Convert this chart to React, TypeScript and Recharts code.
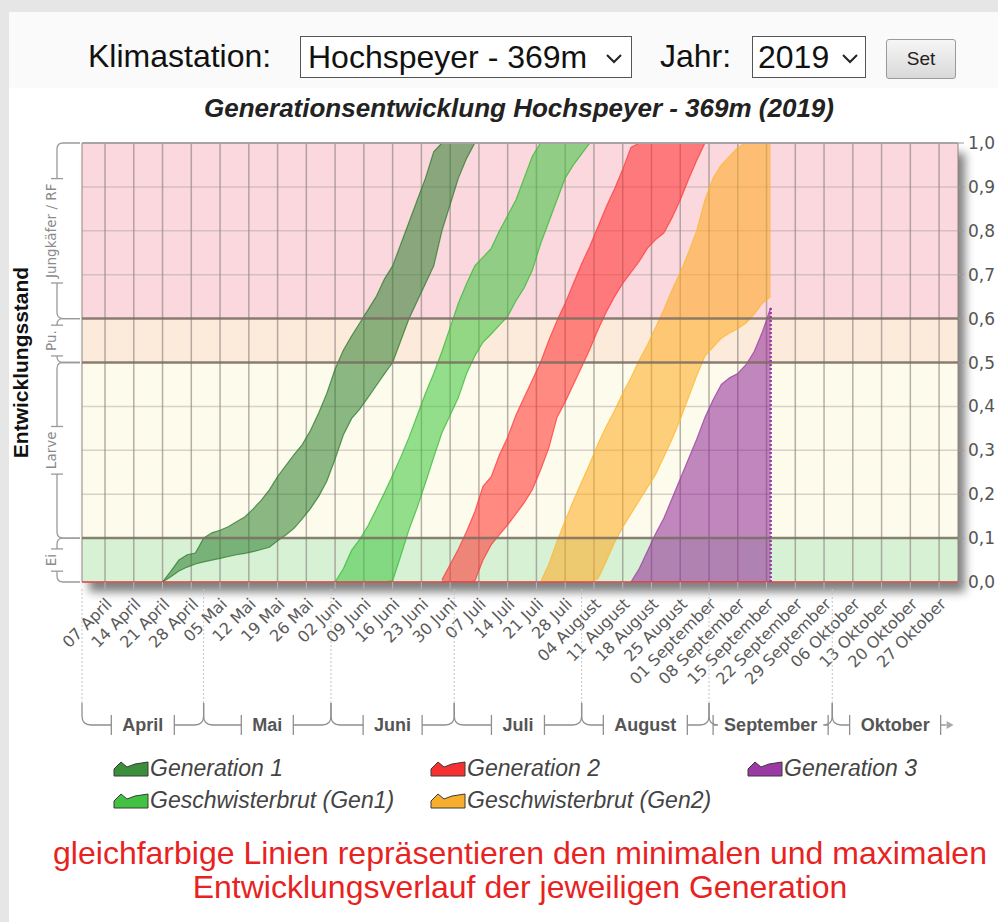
import React from 'react';
import {
  ComposedChart,
  Area,
  XAxis,
  YAxis,
  CartesianGrid,
  ReferenceArea,
  ReferenceLine,
  Legend,
} from 'recharts';

// ---------- axis data ----------
const DOMAIN_START = 0.4;
const DOMAIN_END = 213.6;

const weekDays = [6, 13, 20, 27, 34, 41, 48, 55, 62, 69, 76, 83, 90, 97, 104, 111, 118, 125, 132, 139, 146, 153, 160, 167, 174, 181, 188, 195, 202, 209];
const weekLabels = ['07 April', '14 April', '21 April', '28 April', '05 Mai', '12 Mai', '19 Mai', '26 Mai', '02 Juni', '09 Juni', '16 Juni', '23 Juni', '30 Juni', '07 Juli', '14 Juli', '21 Juli', '28 Juli', '04 August', '11 August', '18 August', '25 August', '01 September', '08 September', '15 September', '22 September', '29 September', '06 Oktober', '13 Oktober', '20 Oktober', '27 Oktober'];

const monthNames = ['April', 'Mai', 'Juni', 'Juli', 'August', 'September', 'Oktober'];
const monthStartDays = [0, 30, 61, 91, 122, 153, 183];

const yTicks = [0, 0.1, 0.2, 0.3, 0.4, 0.5, 0.6, 0.7, 0.8, 0.9, 1.0];

const stageNames = ['Ei', 'Larve', 'Pu.', 'Jungkäfer / RF'];
const stageStart = [0, 0.1, 0.5, 0.6];
const stageEnd = [0.1, 0.5, 0.6, 1.0];
const stageColors = ['#d7f1d5', '#fdfcec', '#fcebdb', '#fad8dd'];

// ---------- series data (day index from 1 April) ----------
const gen1Days = [20, 22, 24, 26, 28, 30, 32, 34, 36, 38, 40, 42, 44, 46, 48, 50, 52, 54, 56, 58, 60, 62, 64, 66, 68, 70, 72, 74, 76, 78, 80, 82, 84, 86, 88, 90, 92, 94, 96];
const gen1Max = [0, 0.024, 0.05, 0.062, 0.066, 0.1, 0.112, 0.118, 0.126, 0.137, 0.148, 0.166, 0.186, 0.21, 0.24, 0.265, 0.29, 0.313, 0.345, 0.385, 0.43, 0.485, 0.528, 0.56, 0.59, 0.62, 0.65, 0.69, 0.72, 0.77, 0.82, 0.87, 0.92, 0.98, 1, 1, 1, 1, 1];
const gen1Min = [0, 0.012, 0.025, 0.034, 0.041, 0.046, 0.05, 0.054, 0.058, 0.062, 0.065, 0.069, 0.074, 0.079, 0.094, 0.107, 0.122, 0.144, 0.167, 0.195, 0.23, 0.28, 0.335, 0.372, 0.394, 0.42, 0.447, 0.474, 0.5, 0.55, 0.6, 0.64, 0.68, 0.72, 0.8, 0.86, 0.92, 0.965, 1];

const sib1Days = [62, 64, 66, 68, 70, 72, 74, 76, 78, 80, 82, 84, 86, 88, 90, 92, 94, 96, 98, 100, 102, 104, 106, 108, 110, 112, 114, 116, 118, 120, 122, 124];
const sib1Max = [0, 0.03, 0.072, 0.097, 0.128, 0.165, 0.203, 0.243, 0.285, 0.33, 0.38, 0.43, 0.475, 0.525, 0.58, 0.635, 0.68, 0.72, 0.74, 0.76, 0.8, 0.835, 0.87, 0.92, 0.97, 1, 1, 1, 1, 1, 1, 1];
const sib1Min = [0, 0, 0, 0, 0, 0, 0, 0.003, 0.06, 0.12, 0.17, 0.226, 0.284, 0.34, 0.38, 0.42, 0.475, 0.515, 0.546, 0.565, 0.585, 0.605, 0.64, 0.67, 0.71, 0.77, 0.82, 0.87, 0.92, 0.95, 0.975, 1];

const gen2Days = [88, 90, 92, 94, 96, 98, 100, 102, 104, 106, 108, 110, 112, 114, 116, 118, 120, 122, 124, 126, 128, 130, 132, 134, 136, 138, 140, 142, 144, 146, 148, 150, 152];
const gen2Max = [0.005, 0.04, 0.075, 0.115, 0.16, 0.218, 0.24, 0.29, 0.33, 0.38, 0.42, 0.46, 0.5, 0.55, 0.595, 0.635, 0.68, 0.725, 0.765, 0.81, 0.855, 0.895, 0.94, 0.99, 1, 1, 1, 1, 1, 1, 1, 1, 1];
const gen2Min = [0, 0, 0, 0, 0.002, 0.05, 0.085, 0.108, 0.13, 0.155, 0.18, 0.21, 0.255, 0.305, 0.375, 0.41, 0.45, 0.49, 0.53, 0.575, 0.615, 0.65, 0.68, 0.705, 0.73, 0.76, 0.78, 0.795, 0.83, 0.87, 0.917, 0.96, 1];

const sib2Days = [112, 114, 116, 118, 120, 122, 124, 126, 128, 130, 132, 134, 136, 138, 140, 142, 144, 146, 148, 150, 152, 154, 156, 158, 160, 162, 164, 166, 168];
const sib2Max = [0, 0.04, 0.092, 0.14, 0.185, 0.228, 0.27, 0.315, 0.355, 0.39, 0.43, 0.465, 0.505, 0.54, 0.58, 0.62, 0.665, 0.705, 0.75, 0.8, 0.87, 0.92, 0.95, 0.97, 0.99, 1, 1, 1, 1];
const sib2Min = [0, 0, 0, 0, 0, 0, 0, 0.008, 0.048, 0.09, 0.125, 0.155, 0.185, 0.215, 0.245, 0.285, 0.325, 0.37, 0.42, 0.47, 0.515, 0.535, 0.555, 0.567, 0.577, 0.59, 0.61, 0.635, 0.65];

const gen3Days = [134, 136, 138, 140, 142, 144, 146, 148, 150, 152, 154, 156, 158, 160, 162, 164, 166, 168];
const gen3Max = [0, 0.03, 0.07, 0.11, 0.145, 0.19, 0.235, 0.28, 0.325, 0.375, 0.415, 0.45, 0.465, 0.475, 0.495, 0.525, 0.57, 0.625];

const toRange = (days: number[], lo: number[], hi: number[]) =>
  days.map((d, i) => ({ d, lo: lo[i], hi: hi[i] }));

const gen1Data = toRange(gen1Days, gen1Min, gen1Max);
const sib1Data = toRange(sib1Days, sib1Min, sib1Max);
const gen2Data = toRange(gen2Days, gen2Min, gen2Max);
const sib2Data = toRange(sib2Days, sib2Min, sib2Max);
const gen3Data = gen3Days.map((d, i) => ({ d, lo: 0, hi: gen3Max[i] }));

const series = [
  { key: 'g1', name: 'Generation 1', data: gen1Data, fill: '#2b7d2b', stroke: '#2e7a2e', icon: '#3b8f3b' },
  { key: 's1', name: 'Geschwisterbrut (Gen1)', data: sib1Data, fill: '#3cc43c', stroke: '#34b834', icon: '#41c341' },
  { key: 'g2', name: 'Generation 2', data: gen2Data, fill: '#ff2b2b', stroke: '#ff3a3a', icon: '#f53030' },
  { key: 's2', name: 'Geschwisterbrut (Gen2)', data: sib2Data, fill: '#ffaa1e', stroke: '#ffb52e', icon: '#f7ae2c' },
  { key: 'g3', name: 'Generation 3', data: gen3Data, fill: '#8e2796', stroke: '#9a3aa4', icon: '#9b3aa5' },
];
const legendOrder = ['g1', 'g2', 'g3', 's1', 's2'];

// ---------- helpers ----------
let measureCtx: any = null;
function measure(text: string, font: string, fallbackPerChar: number) {
  try {
    if (!measureCtx && typeof document !== 'undefined') {
      measureCtx = document.createElement('canvas').getContext('2d');
    }
    if (measureCtx) {
      measureCtx.font = font;
      return measureCtx.measureText(text).width;
    }
  } catch (e) {
    /* ignore */
  }
  return text.length * fallbackPerChar;
}

const labelForDay = (v: number) => {
  const i = weekDays.indexOf(v);
  return i >= 0 ? weekLabels[i] : '';
};

const WeekTick = (props: any) => {
  const { x, y, payload } = props;
  const ax = x + 8;
  const ay = y + 14;
  return (
    <text
      x={ax}
      y={ay}
      textAnchor="end"
      fontFamily="DejaVu Sans, Verdana, sans-serif"
      fontSize={16}
      fill="#5a5a5a"
      transform={`rotate(-45 ${ax} ${ay})`}
    >
      {labelForDay(payload.value)}
    </text>
  );
};

const MonthTick = (props: any) => {
  const { x, y, index, width } = props;
  const w = typeof width === 'number' && width > 0 ? width : 876;
  const pxPerDay = w / (DOMAIN_END - DOMAIN_START);
  const startDay = Math.max(monthStartDays[index], DOMAIN_START);
  const isLast = index === monthNames.length - 1;
  const endDay = isLast ? DOMAIN_END : monthStartDays[index + 1];
  const x1 = x + (endDay - startDay) * pxPerDay;
  const rowY = y + 33;
  const cx = (x + x1) / 2;
  const name = monthNames[index];
  const tw = measure(name, 'bold 18px "Liberation Sans"', 10);
  const lx = cx - tw / 2 - 11;
  const rx = cx + tw / 2 + 11;
  const c = '#8f8f8f';
  return (
    <g>
      <line x1={x} y1={y - 103} x2={x} y2={rowY - 20} stroke="#c4c4c4" strokeDasharray="2 2" />
      <path
        d={`M${x},${rowY - 22} L${x},${rowY - 9} Q${x},${rowY} ${x + 9},${rowY} L${lx},${rowY}`}
        fill="none"
        stroke={c}
        strokeWidth={1.3}
      />
      <line x1={lx} y1={rowY - 10} x2={lx} y2={rowY + 10} stroke={c} strokeWidth={1.3} />
      <text x={cx} y={rowY + 6} textAnchor="middle" fontFamily="Liberation Sans, Arial, sans-serif" fontWeight="bold" fontSize={18} fill="#555">
        {name}
      </text>
      <line x1={rx} y1={rowY - 10} x2={rx} y2={rowY + 10} stroke={c} strokeWidth={1.3} />
      {isLast ? (
        <g>
          <line x1={rx} y1={rowY} x2={rx + 6} y2={rowY} stroke={c} strokeWidth={1.3} />
          <path d={`M${rx + 6},${rowY - 4} L${rx + 13},${rowY} L${rx + 6},${rowY + 4} Z`} fill="#aaa" />
        </g>
      ) : (
        <path
          d={`M${rx},${rowY} L${x1 - 9},${rowY} Q${x1},${rowY} ${x1},${rowY - 9} L${x1},${rowY - 22}`}
          fill="none"
          stroke={c}
          strokeWidth={1.3}
        />
      )}
    </g>
  );
};

const StageTick = (props: any) => {
  const { x, y, index, height } = props;
  const h = typeof height === 'number' && height > 0 ? height : 439.5;
  const y0 = y;
  const y1 = y - (stageEnd[index] - stageStart[index]) * h;
  const lineX = x - 25;
  const cy = (y0 + y1) / 2;
  const name = stageNames[index];
  const tl = measure(name, '13.5px "DejaVu Sans"', 8);
  const gTop = cy - tl / 2 - 5;
  const gBot = cy + tl / 2 + 5;
  const c = '#9a9a9a';
  return (
    <g>
      {index === 0 && (
        <text
          x={x - 54}
          y={y0 - h / 2}
          textAnchor="middle"
          fontFamily="Liberation Sans, Arial, sans-serif"
          fontWeight="bold"
          fontSize={21}
          fill="#111"
          transform={`rotate(-90 ${x - 54} ${y0 - h / 2})`}
        >
          Entwicklungsstand
        </text>
      )}
      <path
        d={`M${x - 2},${y1} L${lineX + 6},${y1} Q${lineX},${y1} ${lineX},${y1 + 6} L${lineX},${gTop}`}
        fill="none"
        stroke={c}
        strokeWidth={1.3}
      />
      <line x1={lineX - 6} y1={gTop} x2={lineX + 6} y2={gTop} stroke={c} strokeWidth={1.3} />
      <text
        x={lineX - 1}
        y={cy}
        textAnchor="middle"
        fontFamily="DejaVu Sans, Verdana, sans-serif"
        fontSize={13.5}
        fill="#8a8a8a"
        transform={`rotate(-90 ${lineX - 1} ${cy})`}
      >
        {name}
      </text>
      <line x1={lineX - 6} y1={gBot} x2={lineX + 6} y2={gBot} stroke={c} strokeWidth={1.3} />
      <path
        d={`M${lineX},${gBot} L${lineX},${y0 - 6} Q${lineX},${y0} ${lineX + 6},${y0} L${x - 2},${y0}`}
        fill="none"
        stroke={c}
        strokeWidth={1.3}
      />
    </g>
  );
};

const LegendIcon = ({ color }: { color: string }) => (
  <svg width={36} height={18} style={{ display: 'block' }}>
    <path d="M1,17 L1,10 L8,3 L14,8 L22,5 L35,3 L35,17 Z" fill={color} stroke="#3a3a3a" strokeWidth={1} />
  </svg>
);

const LegendContent = () => (
  <div style={{ display: 'grid', gridTemplateColumns: '317px 317px 317px', gridAutoRows: '32px' }}>
    {legendOrder.map((k) => {
      const s = series.find((e) => e.key === k)!;
      return (
        <div key={k} style={{ display: 'flex', alignItems: 'center', height: 32 }}>
          <LegendIcon color={s.icon} />
          <span
            style={{
              marginLeft: 1,
              fontFamily: '"Liberation Sans", Arial, sans-serif',
              fontStyle: 'italic',
              fontSize: 23,
              color: '#444',
              whiteSpace: 'nowrap',
            }}
          >
            {s.name}
          </span>
        </div>
      );
    })}
  </div>
);

const Chevron = ({ left }: { left: number }) => (
  <svg width={18} height={12} style={{ position: 'absolute', left, top: 16 }}>
    <polyline points="2,2 9,9 16,2" fill="none" stroke="#222" strokeWidth={2} />
  </svg>
);

export default function App() {
  const headerFont = '"Liberation Sans", Arial, sans-serif';
  return (
    <div
      style={{
        position: 'absolute',
        left: 0,
        top: 0,
        width: 998,
        height: 922,
        overflow: 'hidden',
        background: '#e6e6e6',
        fontFamily: headerFont,
      }}
    >
      <div style={{ position: 'absolute', left: 9, top: 12, right: 0, bottom: 0, background: '#ffffff' }} />
      <div style={{ position: 'absolute', left: 9, top: 12, right: 0, height: 76, background: '#fafafa' }} />

      {/* header controls */}
      <div style={{ position: 'absolute', left: 88, top: 36, fontSize: 32, lineHeight: '40px', color: '#111' }}>Klimastation:</div>
      <div
        style={{
          position: 'absolute',
          left: 300,
          top: 36,
          width: 330,
          height: 40,
          border: '1px solid #555',
          background: '#fff',
        }}
      >
        <div style={{ position: 'absolute', left: 7, top: 0, fontSize: 32, lineHeight: '40px', color: '#111' }}>Hochspeyer - 369m</div>
        <Chevron left={304} />
      </div>
      <div style={{ position: 'absolute', left: 660, top: 36, fontSize: 32, lineHeight: '40px', color: '#111' }}>Jahr:</div>
      <div
        style={{
          position: 'absolute',
          left: 752,
          top: 36,
          width: 112,
          height: 40,
          border: '1px solid #555',
          background: '#fff',
        }}
      >
        <div style={{ position: 'absolute', left: 5, top: 0, fontSize: 32, lineHeight: '40px', color: '#111' }}>2019</div>
        <Chevron left={88} />
      </div>
      <div
        style={{
          position: 'absolute',
          left: 886,
          top: 39,
          width: 68,
          height: 38,
          border: '1px solid #9a9a9a',
          borderRadius: 3,
          background: 'linear-gradient(#f6f6f6, #d9d9d9)',
          fontSize: 19,
          lineHeight: '38px',
          textAlign: 'center',
          color: '#222',
        }}
      >
        Set
      </div>

      <div style={{ position: 'absolute', left: 0, top: 0 }}>
        <ComposedChart
          width={998}
          height={830}
          margin={{ top: 143, right: 0, bottom: 88, left: 12 }}
          style={{ fontFamily: 'DejaVu Sans, sans-serif' }}
        >
          <defs>
            <filter id="plotShadow" x="-5%" y="-5%" width="115%" height="125%">
              <feGaussianBlur in="SourceAlpha" stdDeviation="5" />
              <feOffset dx="7" dy="10" result="blur" />
              <feFlood floodColor="#000" floodOpacity="0.5" />
              <feComposite in2="blur" operator="in" />
              <feMerge>
                <feMergeNode />
                <feMergeNode in="SourceGraphic" />
              </feMerge>
            </filter>
          </defs>
          <text
            x={519}
            y={117}
            textAnchor="middle"
            fontFamily="Liberation Sans, Arial, sans-serif"
            fontWeight="bold"
            fontStyle="italic"
            fontSize={26}
            fill="#222"
          >
            Generationsentwicklung Hochspeyer - 369m (2019)
          </text>

          <XAxis
            dataKey="d"
            type="number"
            domain={[DOMAIN_START, DOMAIN_END]}
            ticks={weekDays}
            interval={0}
            height={110}
            axisLine={false}
            tickLine={{ stroke: '#b5b5b5' }}
            tickSize={7}
            tick={<WeekTick />}
            allowDataOverflow
          />
          <XAxis
            xAxisId="m"
            dataKey="d"
            type="number"
            domain={[DOMAIN_START, DOMAIN_END]}
            ticks={monthStartDays.map((d) => Math.max(d, DOMAIN_START))}
            interval={0}
            height={50}
            axisLine={false}
            tickLine={false}
            tickSize={0}
            tickMargin={0}
            tick={<MonthTick />}
            allowDataOverflow
          />
          <YAxis
            orientation="right"
            type="number"
            domain={[0, 1]}
            ticks={yTicks}
            interval={0}
            width={40}
            axisLine={false}
            tickLine={{ stroke: '#9a9a9a' }}
            tickSize={6}
            tickMargin={4}
            tick={{ fontSize: 17, fill: '#555', fontFamily: 'DejaVu Sans, Verdana, sans-serif' }}
            tickFormatter={(v: number) => v.toFixed(1).replace('.', ',')}
            allowDataOverflow
          />
          <YAxis
            yAxisId="s"
            orientation="left"
            type="number"
            domain={[0, 1]}
            ticks={stageStart}
            interval={0}
            width={70}
            axisLine={false}
            tickLine={false}
            tickSize={0}
            tickMargin={0}
            tick={<StageTick />}
            allowDataOverflow
          />

          <ReferenceArea
            x1={DOMAIN_START}
            x2={DOMAIN_END}
            y1={0}
            y2={1}
            fill="#ffffff"
            fillOpacity={1}
            stroke="none"
            filter="url(#plotShadow)"
            zIndex={-300}
          />
          {stageStart.map((s, i) => (
            <ReferenceArea
              key={'band' + i}
              x1={DOMAIN_START}
              x2={DOMAIN_END}
              y1={s}
              y2={stageEnd[i]}
              fill={stageColors[i]}
              fillOpacity={1}
              stroke="none"
              zIndex={-200}
            />
          ))}
          <CartesianGrid vertical={false} stroke="#b3a6a3" strokeOpacity={0.5} strokeWidth={1.5} zIndex={-100} />
          <CartesianGrid horizontal={false} stroke="#8f8480" strokeOpacity={0.65} strokeWidth={1.5} zIndex={-100} />

          {series.map((s) => (
            <Area
              key={s.key}
              name={s.name}
              data={s.data}
              dataKey={(p: any) => [p.lo, p.hi]}
              type="linear"
              fill={s.fill}
              fillOpacity={0.55}
              stroke={s.stroke}
              strokeOpacity={0.75}
              strokeWidth={1.2}
              dot={false}
              activeDot={false}
              isAnimationActive={false}
            />
          ))}

          <ReferenceLine y={0.1} stroke="#7b6f64" strokeOpacity={0.85} strokeWidth={2.5} />
          <ReferenceLine y={0.5} stroke="#7b6f64" strokeOpacity={0.85} strokeWidth={2.5} />
          <ReferenceLine y={0.6} stroke="#7b6f64" strokeOpacity={0.85} strokeWidth={2.5} />
          <ReferenceLine y={1} stroke="#a9a3a3" strokeWidth={2} />
          <ReferenceLine y={0} stroke="#e04646" strokeWidth={1.5} />
          <ReferenceLine
            segment={[
              { x: gen3Days[gen3Days.length - 1], y: 0 },
              { x: gen3Days[gen3Days.length - 1], y: gen3Max[gen3Max.length - 1] },
            ]}
            stroke="#9a3aa4"
            strokeWidth={2.5}
            strokeDasharray="2 2"
          />

          <Legend
            layout="vertical"
            align="center"
            verticalAlign="middle"
            wrapperStyle={{ position: 'absolute', left: 113, top: 752, width: 880, height: 64 }}
            content={() => <LegendContent />}
          />
        </ComposedChart>
      </div>

      <div
        style={{
          position: 'absolute',
          left: 20,
          width: 1000,
          top: 836,
          textAlign: 'center',
          color: '#e8231f',
          fontSize: 32,
          lineHeight: '34px',
          whiteSpace: 'nowrap',
        }}
      >
        <div>gleichfarbige Linien repräsentieren den minimalen und maximalen</div>
        <div>Entwicklungsverlauf der jeweiligen Generation</div>
      </div>
    </div>
  );
}
